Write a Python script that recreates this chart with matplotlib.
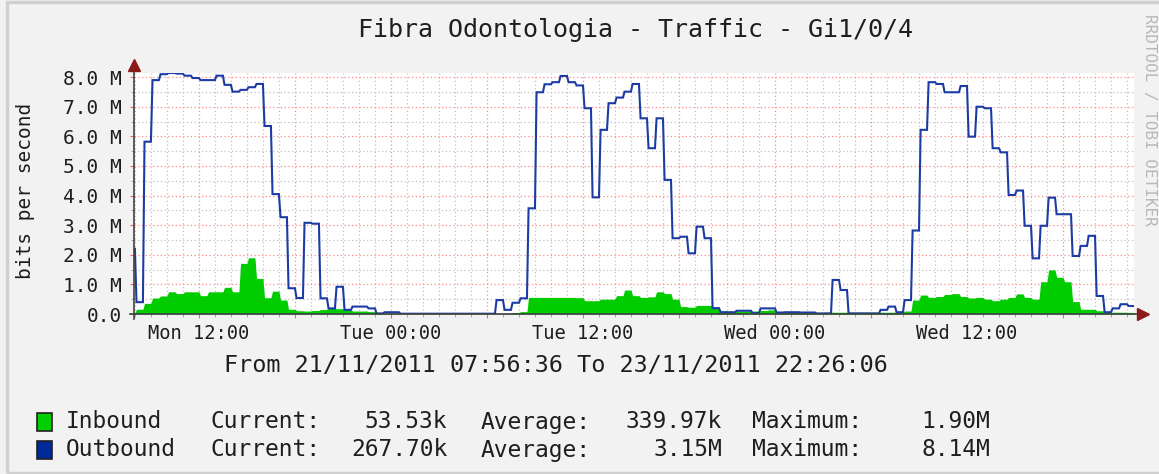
import numpy as np
import matplotlib
matplotlib.use('Agg')
import matplotlib.pyplot as plt
from matplotlib.ticker import MultipleLocator, FixedLocator
from matplotlib.patches import Rectangle

# ---- data (30 min samples, hours since Mon 00:00, values in Mbit/s) ----
t_start = 7.5
t_first, t_last = 7.943, 70.435   # 21/11 07:56:36 .. 23/11 22:26:06

outbound = [
    2.2, 0.4, 5.82, 7.9, 8.1, 8.14, 8.12, 8.05, 7.97, 7.9,
    7.9, 8.05, 7.74, 7.51, 7.57, 7.66, 7.77, 6.35, 4.05, 3.27, 0.87, 0.54,
    3.08, 3.05, 0.53, 0.19, 0.92, 0.14, 0.25, 0.25, 0.19, 0.02, 0.06, 0.06,
    0.01, 0.01, 0.01, 0.01, 0.01, 0.01, 0.01, 0.01, 0.01, 0.01, 0.01, 0.01,
    0.47, 0.14, 0.38, 0.53, 3.57, 7.49, 7.76, 7.83, 8.04, 7.83, 7.72, 6.95,
    3.94, 6.22, 7.12, 7.31, 7.51, 7.77, 6.61, 5.6, 6.61, 4.53, 2.56, 2.61,
    2.05, 2.95, 2.56, 0.2, 0.06, 0.06, 0.11, 0.11, 0.03, 0.19, 0.19, 0.05,
    0.06, 0.06, 0.05, 0.05, 0.02, 0.02, 1.15, 0.81, 0.02, 0.02, 0.02, 0.02,
    0.14, 0.25, 0.06, 0.47, 2.82, 6.22, 7.83, 7.77, 7.49, 7.49, 7.7, 5.99,
    7.0, 6.95, 5.6, 5.46, 4.02, 4.17, 2.98, 1.88, 2.98, 3.93, 3.37, 3.37,
    1.96, 2.3, 2.64, 0.61, 0.06, 0.19, 0.33, 0.27,
]

inbound = [
    0.05, 0.16, 0.36, 0.54, 0.61, 0.75, 0.69, 0.75, 0.75, 0.62,
    0.75, 0.75, 0.9, 0.75, 1.71, 1.90, 1.2, 0.55, 0.77, 0.47, 0.16, 0.11,
    0.1, 0.12, 0.15, 0.2, 0.18, 0.15, 0.1, 0.1, 0.08, 0.02, 0.02, 0.02,
    0.01, 0.01, 0.01, 0.01, 0.01, 0.01, 0.01, 0.01, 0.01, 0.01, 0.01, 0.01,
    0.01, 0.02, 0.05, 0.08, 0.56, 0.56, 0.56, 0.56, 0.56, 0.56, 0.55, 0.45,
    0.45, 0.5, 0.5, 0.62, 0.81, 0.62, 0.56, 0.58, 0.75, 0.69, 0.5, 0.25,
    0.23, 0.29, 0.29, 0.19, 0.1, 0.06, 0.1, 0.1, 0.1, 0.12, 0.14, 0.05,
    0.05, 0.05, 0.05, 0.05, 0.05, 0.06, 0.06, 0.06, 0.06, 0.06, 0.06, 0.06,
    0.06, 0.06, 0.06, 0.1, 0.47, 0.64, 0.56, 0.59, 0.66, 0.69, 0.59, 0.54,
    0.56, 0.5, 0.45, 0.5, 0.56, 0.68, 0.56, 0.5, 1.09, 1.49, 1.24, 1.09,
    0.42, 0.16, 0.16, 0.11, 0.06, 0.06, 0.06, 0.054,
]

xtick_pos = [12, 24, 36, 48, 60]
xtick_labels = ['Mon 12:00', 'Tue 00:00', 'Tue 12:00', 'Wed 00:00', 'Wed 12:00']
ytick_pos = [0, 1, 2, 3, 4, 5, 6, 7, 8]
ytick_labels = ['0.0', '1.0 M', '2.0 M', '3.0 M', '4.0 M', '5.0 M', '6.0 M', '7.0 M', '8.0 M']

legend_rows = [
    ('Inbound', '53.53k', '339.97k', '1.90M', '#00cf00'),
    ('Outbound', '267.70k', '3.15M', '8.14M', '#002a97'),
]

# ---- figure ----
W, H = 1159, 474
MONO = 'DejaVu Sans Mono'
BG = '#f2f2f2'
TXT = '#1e1e1e'

fig = plt.figure(figsize=(W / 100, H / 100), dpi=100, facecolor=BG)


def fx(x):
    return x / W


def fy(y):
    return 1 - y / H


x0, x1 = 134, 1134
y0, y1 = 314, 73
ax = fig.add_axes([fx(x0), fy(y0), (x1 - x0) / W, (y0 - y1) / H])
ax.set_facecolor('white')

# each 30 min sample held flat, with a short ramp to the next one (like rrdtool's pixel resampling)
ts = t_start + 0.5 * np.arange(len(outbound))
ramp = 0.1
tt = np.ravel(np.column_stack([ts + ramp, ts + 0.5]))
tt[0] = ts[0]
out = np.repeat(outbound, 2)
inb = np.repeat(inbound, 2)

ax.fill_between(tt, inb, color='#00cc00', lw=0, zorder=3)
ax.plot(tt, out, color='#1c3ca4', lw=1.5, zorder=4, solid_joinstyle='miter')

ax.set_xlim(t_first, t_last)
ax.set_ylim(0, 8.14)

# grid
major_x = np.arange(12, 70, 6)
ax.xaxis.set_major_locator(FixedLocator(major_x))
ax.xaxis.set_minor_locator(MultipleLocator(1))
ax.yaxis.set_major_locator(FixedLocator(ytick_pos))
ax.yaxis.set_minor_locator(MultipleLocator(0.5))
ax.grid(which='major', color='#ff8a8a', linestyle=(0, (1, 2)), lw=0.9, zorder=1)
ax.grid(which='minor', color='#c0c0c0', linestyle=(0, (1, 2)), lw=0.9, zorder=0)
ax.set_axisbelow(True)

ax.set_xticklabels([xtick_labels[xtick_pos.index(p)] if p in xtick_pos else '' for p in major_x],
                   fontfamily=MONO, fontsize=13.5, color=TXT)
ax.set_yticklabels(ytick_labels, fontfamily=MONO, fontsize=14, color=TXT)
ax.tick_params(axis='x', which='major', length=3, color='#ff6060', pad=4)
ax.tick_params(axis='y', which='major', length=3, color='#ff6060', pad=6)
ax.tick_params(which='minor', length=2, color='#999999')

for s in ax.spines.values():
    s.set_visible(False)

# axis lines with arrows
ax.plot([-0.004, 1.006], [0, 0], transform=ax.transAxes, color='#404040', lw=1.2,
        clip_on=False, zorder=5)
ax.plot([0, 0], [-0.02, 1.025], transform=ax.transAxes, color='#404040', lw=1.2,
        clip_on=False, zorder=5)
ax.plot([1.009], [0], marker='>', ms=8, color='#8b1a1a', transform=ax.transAxes,
        clip_on=False, zorder=6)
ax.plot([0], [1.035], marker='^', ms=8, color='#8b1a1a', transform=ax.transAxes,
        clip_on=False, zorder=6)

# texts
fig.text(fx(636), fy(30), 'Fibra Odontologia - Traffic - Gi1/0/4', ha='center', va='center',
         fontfamily=MONO, fontsize=18, color=TXT)
fig.text(fx(26), fy(191), 'bits per second', rotation=90, ha='center', va='center',
         fontfamily=MONO, fontsize=14, color=TXT)
fig.text(fx(1149), fy(120), 'RRDTOOL / TOBI OETIKER', rotation=270, ha='center', va='center',
         fontfamily=MONO, fontsize=11.5, color='#b8b8b8')
fig.text(fx(556), fy(366), 'From 21/11/2011 07:56:36 To 23/11/2011 22:26:06', ha='center',
         va='center', fontfamily=MONO, fontsize=16.8, color=TXT)

for i, (name, cur, avg, mx, col) in enumerate(legend_rows):
    yc = 422 + 28 * i
    fig.patches.append(Rectangle((fx(37), fy(yc + 9)), 15 / W, 18 / H, transform=fig.transFigure,
                                 facecolor=col, edgecolor='#202020', lw=1.2))
    kw = dict(va='center', fontfamily=MONO, fontsize=16.5, color=TXT)
    fig.text(fx(66), fy(yc), name, ha='left', **kw)
    fig.text(fx(210), fy(yc), 'Current:', ha='left', **kw)
    fig.text(fx(447), fy(yc), cur, ha='right', **kw)
    fig.text(fx(481), fy(yc), 'Average:', ha='left', **kw)
    fig.text(fx(722), fy(yc), avg, ha='right', **kw)
    fig.text(fx(752), fy(yc), 'Maximum:', ha='left', **kw)
    fig.text(fx(990), fy(yc), mx, ha='right', **kw)

# outer frame
fig.patches.append(Rectangle((fx(6.5), fy(472.5)), (W - 5) / W, 470.5 / H, transform=fig.transFigure,
                             facecolor='none', edgecolor='#d0d0d0', lw=2.5))

fig.savefig('out.png', dpi=100, facecolor=BG)
